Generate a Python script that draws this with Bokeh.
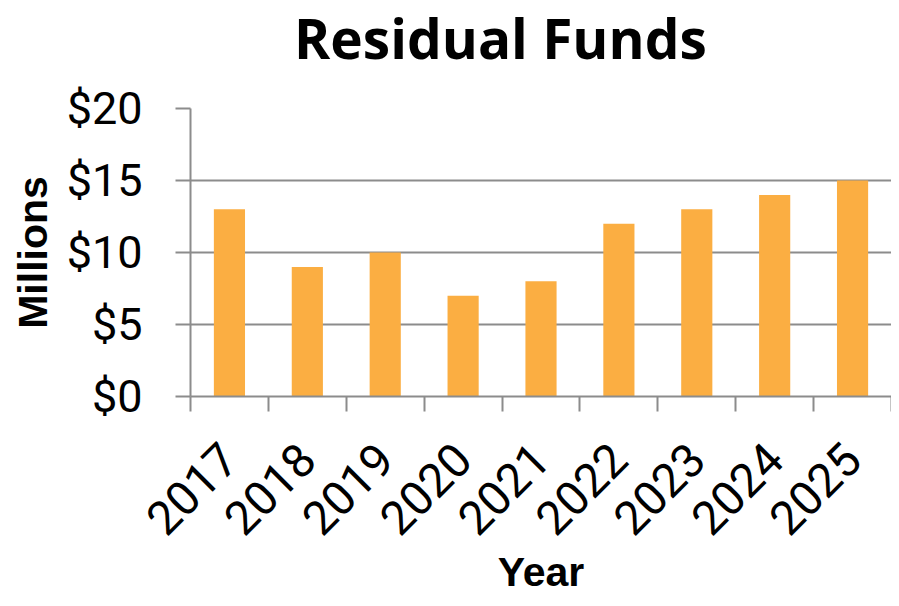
import math
from bokeh.plotting import figure
from bokeh.layouts import column
from bokeh.models import Range1d, FixedTicker, NumeralTickFormatter, ColumnDataSource, Div
from bokeh.embed import file_html
from bokeh.resources import INLINE

years = ["2017", "2018", "2019", "2020", "2021", "2022", "2023", "2024", "2025"]
values = [13, 9, 10, 7, 8, 12, 13, 14, 15]
y_ticks = [0, 5, 10, 15, 20]
title_text = "Residual Funds"

centers = [i + 0.5 for i in range(len(years))]
bounds = list(range(len(years) + 1))

GRAY = "#8c8c8c"
BAR = "#FBAE42"

src = ColumnDataSource(dict(x=centers, top=values, year=years))

TITLE_H = 78

title_div = Div(
    text=(f'<div style="padding-left:294px; padding-top:0px; margin:0; '
          f'font-family:\'Open Sans\'; font-weight:bold; font-size:55px; '
          f'line-height:1.37; white-space:nowrap; color:black;">{title_text}</div>'),
    width=891, height=TITLE_H, margin=0)

p = figure(width=891, height=598 - TITLE_H, output_backend="svg", toolbar_location=None,
           x_range=Range1d(0, len(years)), y_range=Range1d(0, 20),
           min_border_left=190, min_border_right=0, min_border_top=108 - TITLE_H,
           min_border_bottom=202, background_fill_color="white",
           border_fill_color="white", margin=0)
p.outline_line_color = None

p.vbar(x="x", top="top", width=0.4, source=src, fill_color=BAR, line_color=None)

# y axis
ya = p.yaxis[0]
ya.ticker = FixedTicker(ticks=y_ticks, minor_ticks=[])
ya.formatter = NumeralTickFormatter(format="$0")
ya.major_label_text_font = "Roboto"
ya.major_label_text_font_size = "45px"
ya.major_label_text_color = "black"
ya.major_tick_out = 15
ya.major_tick_in = 0
ya.major_tick_line_color = GRAY
ya.major_tick_line_width = 2
ya.minor_tick_line_color = None
ya.axis_line_color = GRAY
ya.axis_line_width = 2
ya.major_label_standoff = 33
ya.axis_label = "Millions"
ya.axis_label_text_font = "Liberation Sans"
ya.axis_label_text_font_style = "bold"
ya.axis_label_text_font_size = "41px"
ya.axis_label_text_color = "black"
ya.axis_label_standoff = 8

# x axis
xa = p.xaxis[0]
xa.ticker = FixedTicker(ticks=centers, minor_ticks=bounds)
xa.major_label_overrides = {c: y for c, y in zip(centers, years)}
xa.major_label_orientation = math.pi / 4
xa.major_label_text_font = "Roboto"
xa.major_label_text_font_size = "47px"
xa.major_label_text_color = "black"
xa.major_tick_line_color = None
xa.minor_tick_line_color = GRAY
xa.minor_tick_line_width = 2
xa.minor_tick_out = 15
xa.minor_tick_in = 0
xa.axis_line_color = GRAY
xa.axis_line_width = 2
xa.major_label_standoff = 40
xa.axis_label = "Year"
xa.axis_label_text_font = "Liberation Sans"
xa.axis_label_text_font_style = "bold"
xa.axis_label_text_font_size = "41px"
xa.axis_label_text_color = "black"
xa.axis_label_standoff = -4

p.xgrid.visible = False
p.ygrid.ticker = FixedTicker(ticks=y_ticks)
p.ygrid.grid_line_color = GRAY
p.ygrid.grid_line_width = 2

layout = column(title_div, p, spacing=0)
open("out.html", "w").write(file_html(layout, INLINE))
